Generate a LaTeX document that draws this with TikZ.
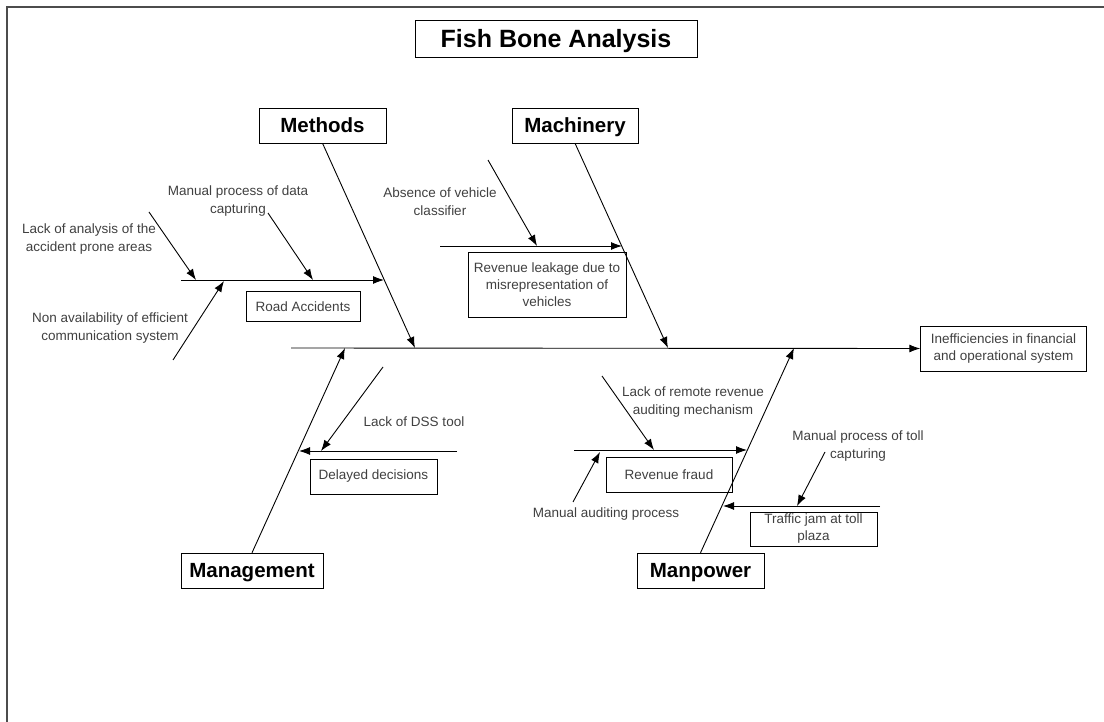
\documentclass[tikz,border=0pt]{standalone}
\usepackage{fontspec}
\setmainfont{Liberation Sans}
\usetikzlibrary{arrows.meta}
\newcommand{\px}{1pt}

\begin{document}
\begin{tikzpicture}[x=\px, y=-\px,
    head/.style={draw, rectangle, minimum height=35*\px, inner sep=0pt, text height=16.7pt, text depth=2pt, font=\fontsize{20.5}{24}\selectfont\bfseries},
    box/.style={draw, rectangle, inner sep=0pt, align=center, font=\fontsize{13.5}{17}\selectfont, text=black!75},
    txt/.style={align=center, inner sep=0pt, font=\fontsize{13.5}{18}\selectfont, text=black!75},
    bone/.style={-{Latex[length=11pt,width=8pt]}, line width=0.9pt}]
    \useasboundingbox (0,0) rectangle (1104,722);
    % page frame
    \draw[line width=1.5pt, black!70] (1104,7) -- (7,7) -- (7,722);

    % Title
    \node[draw, minimum width=282*\px, minimum height=37*\px, inner sep=0pt, text height=19.9pt, text depth=2pt, font=\fontsize{25}{28}\selectfont\bfseries] (title) at (556,38.5) {Fish Bone Analysis};

    % Heads
    \node[head, minimum width=127*\px] (head-1) at (322.5,125.5) {Methods};
    \node[head, minimum width=126*\px] (head-2) at (575,125.5) {Machinery};
    \node[head, minimum width=142*\px] (head-3) at (252,570.5) {Management};
    \node[head, minimum width=127*\px] (head-4) at (700.5,570.5) {Manpower};

    % Effect and spine
    \node[box, minimum width=166*\px, minimum height=45*\px] (effect) at (1003.5,348.5) {Inefficiencies in financial\\and operational system};
    \coordinate (spine) at (291,348);
    \draw[bone] (spine) -- (effect.west);

    % Bones
    \coordinate (tip-1) at (415,348);
    \coordinate (tip-2) at (668,348);
    \coordinate (tip-3) at (345,348);
    \coordinate (tip-4) at (794,348);
    \draw[bone] (head-1.south) -- (tip-1);
    \draw[bone] (head-2.south) -- (tip-2);
    \draw[bone] (head-3.north) -- (tip-3);
    \draw[bone] (head-4.north) -- (tip-4);

    % Methods
    \node[box, minimum width=114*\px, minimum height=30*\px] (sub-1-1) at (303,306.5) {Road Accidents};
    \coordinate (s-1-1) at (181,280);
    \coordinate (e-1-1) at (384,280);
    \draw[bone] (s-1-1) -- (e-1-1);
    \node[txt] (cause-1-1) at (89,239) {Lack of analysis of the\\accident prone areas};
    \node[txt] (cause-1-2) at (238,201) {Manual process of data\\capturing};
    \node[txt] (cause-1-3) at (110,328) {Non availability of efficient\\communication system};
    \coordinate (a-1-1) at (149,212);
    \coordinate (b-1-1) at (196,280);
    \coordinate (a-1-2) at (268,213);
    \coordinate (b-1-2) at (313,280);
    \coordinate (a-1-3) at (173,360);
    \coordinate (b-1-3) at (224,281);
    \draw[bone] (a-1-1) -- (b-1-1);
    \draw[bone] (a-1-2) -- (b-1-2);
    \draw[bone] (a-1-3) -- (b-1-3);

    % Machinery
    \node[box, minimum width=158*\px, minimum height=65*\px] (sub-2-1) at (547,284.5) {Revenue leakage due to\\misrepresentation of\\vehicles};
    \coordinate (s-2-1) at (440,246);
    \coordinate (e-2-1) at (622,246);
    \draw[bone] (s-2-1) -- (e-2-1);
    \node[txt] (cause-2-1) at (440,202) {Absence of vehicle\\classifier};
    \coordinate (a-2-1) at (488,160);
    \coordinate (b-2-1) at (537,246);
    \draw[bone] (a-2-1) -- (b-2-1);

    % Management
    \node[box, minimum width=127*\px, minimum height=35*\px] (sub-3-1) at (373.5,476.5) {Delayed decisions};
    \coordinate (s-3-1) at (457,451);
    \coordinate (e-3-1) at (299,451);
    \draw[bone] (s-3-1) -- (e-3-1);
    \node[txt] (cause-3-1) at (414,422) {Lack of DSS tool};
    \coordinate (a-3-1) at (383,367);
    \coordinate (b-3-1) at (321,451);
    \draw[bone] (a-3-1) -- (b-3-1);

    % Manpower
    \node[box, minimum width=126*\px, minimum height=35*\px] (sub-4-1) at (669,474.5) {Revenue fraud};
    \coordinate (s-4-1) at (574,450);
    \coordinate (e-4-1) at (747,450);
    \draw[bone] (s-4-1) -- (e-4-1);
    \node[txt] (cause-4-1) at (693,402) {Lack of remote revenue\\auditing mechanism};
    \node[txt] (cause-4-2) at (606,514) {Manual auditing process};
    \coordinate (a-4-1) at (602,376);
    \coordinate (b-4-1) at (654,450);
    \coordinate (a-4-2) at (573,502);
    \coordinate (b-4-2) at (600,452);
    \draw[bone] (a-4-1) -- (b-4-1);
    \draw[bone] (a-4-2) -- (b-4-2);

    \node[box, minimum width=127*\px, minimum height=34*\px] (sub-4-2) at (813.5,529) {Traffic jam at toll\\plaza};
    \coordinate (s-4-2) at (880,506);
    \coordinate (e-4-2) at (723,506);
    \draw[bone] (s-4-2) -- (e-4-2);
    \node[txt] (cause-4-3) at (858,446) {Manual process of toll\\capturing};
    \coordinate (a-4-3) at (825,452);
    \coordinate (b-4-3) at (797,506);
    \draw[bone] (a-4-3) -- (b-4-3);

\end{tikzpicture}
\end{document}
